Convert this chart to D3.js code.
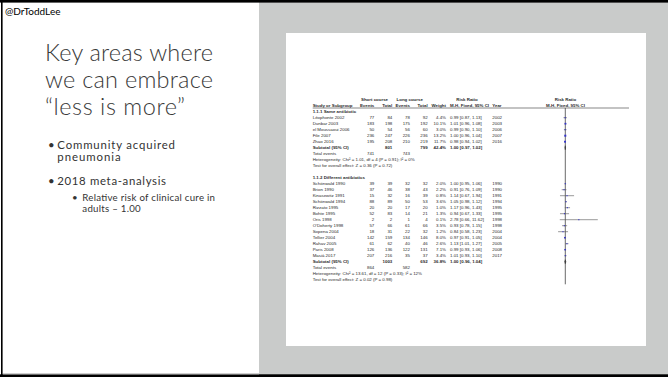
<!DOCTYPE html>
<html><head><meta charset="utf-8">
<script src="https://cdn.jsdelivr.net/npm/d3@7"></script>
<style>html,body{margin:0;padding:0;background:#fff;}svg{display:block}</style>
</head><body><svg id="c" width="668" height="377"></svg>
<script>
// ---------- data ----------
const titleLines = ["Key areas where", "we can embrace", "\u201cless is more\u201d"];
const bullets = ["Community acquired", "pneumonia", "2018 meta-analysis"];
const subBullets = ["Relative risk of clinical cure in", "adults \u2013 1.00"];
const handle = "@DrToddLee";

const groupLabels = ["1.1.1 Same antibiotic", "1.1.2 Different antibiotics"];
const studyNames = ["L\u00e9ophonte 2002","Dunbar 2003","el Moussaoui 2006","File 2007","Zhao 2016",
  "Sch\u00f6nwald 1990","Brion 1990","Kinasewitz 1991","Sch\u00f6nwald 1994","Rizzato 1995","Bohte 1995",
  "Oris 1998","O'Doherty 1998","Sopena 2004","Tellier 2004","Rahav 2005","Paris 2008","Masi\u00e0 2017"];
const studyGroup  = [0,0,0,0,0,1,1,1,1,1,1,1,1,1,1,1,1,1];
const shortEvents = [77,183,50,236,195,39,37,15,88,20,52,2,57,18,142,61,126,207];
const shortTotal  = [84,198,54,247,208,39,46,32,89,20,83,2,66,31,159,62,136,216];
const longEvents  = [78,175,56,226,210,32,38,16,50,17,14,1,61,22,134,40,122,35];
const longTotal   = [92,192,60,236,219,32,43,39,53,20,21,4,66,32,146,46,131,37];
const weights     = [4.4,10.1,3.0,13.2,11.7,2.0,2.2,0.8,3.6,1.0,1.3,0.1,3.5,1.2,8.0,2.6,7.1,3.4];
const riskRatio   = [0.99,1.01,0.99,1.00,0.98,1.00,0.91,1.14,1.05,1.17,0.94,2.78,0.93,0.84,0.97,1.13,0.99,1.01];
const ciLow       = [0.87,0.96,0.90,0.96,0.94,0.95,0.76,0.67,0.98,0.96,0.67,0.66,0.78,0.58,0.91,1.01,0.93,0.93];
const ciHigh      = [1.13,1.08,1.10,1.04,1.02,1.06,1.09,1.94,1.12,1.43,1.33,11.62,1.15,1.23,1.05,1.27,1.06,1.10];
const years       = [2002,2003,2006,2007,2016,1990,1990,1991,1994,1995,1995,1998,1998,2004,2004,2005,2008,2017];

const subShortTotal = [801, 1003];
const subLongTotal  = [799, 692];
const subWeight     = [42.4, 36.8];
const subRR         = [1.00, 1.00];
const subLow        = [0.97, 0.96];
const subHigh       = [1.02, 1.04];
const totShortEv    = [741, 864];
const totLongEv     = [743, 582];
const heterogeneity = ["Heterogeneity: Chi\u00b2 = 1.01, df = 4 (P = 0.91); I\u00b2 = 0%",
                       "Heterogeneity: Chi\u00b2 = 13.61, df = 12 (P = 0.33); I\u00b2 = 12%"];
const overallEffect = ["Test for overall effect: Z = 0.36 (P = 0.72)",
                       "Test for overall effect: Z = 0.02 (P = 0.98)"];
const rrDomain = [0.01, 100];

// ---------- drawing ----------
const svg = d3.select("#c");
const W = 668, H = 377;
const slideFont = "Lato, 'Open Sans', sans-serif";
const tableFont = "'Liberation Sans', Arial, sans-serif";

// background panels
svg.append("rect").attr("x",0).attr("y",0).attr("width",W).attr("height",H).attr("fill","#ffffff");
svg.append("rect").attr("x",259).attr("y",0).attr("width",W-259).attr("height",H).attr("fill","#c9cbca");
svg.append("rect").attr("x",286).attr("y",33).attr("width",360).attr("height",313).attr("fill","#ffffff");
// frame
svg.append("rect").attr("x",0).attr("y",0).attr("width",W).attr("height",2.6).attr("fill","#000");
svg.append("rect").attr("x",0).attr("y",374.3).attr("width",W).attr("height",2.7).attr("fill","#000");
svg.append("rect").attr("x",3).attr("y",373.3).attr("width",256).attr("height",1).attr("fill","#bbb");
svg.append("rect").attr("x",1).attr("y",0).attr("width",1.6).attr("height",H).attr("fill","#000");

// handle
svg.append("text").attr("x",5).attr("y",14.5).attr("font-family",slideFont).attr("font-size",10)
  .attr("fill","#000").text(handle);

// title
const titleWidths = [168, 168, 140];
svg.append("g").selectAll("text").data(titleLines).join("text")
  .attr("x",45).attr("y",(d,i)=>61+27*i)
  .attr("font-family",slideFont).attr("font-size",23.5).attr("font-weight",300)
  .attr("textLength",(d,i)=>titleWidths[i]).attr("lengthAdjust","spacing")
  .attr("fill","#3a3a3a").text(d=>d);

// bullets
const bY = [149, 161, 185];
const bW = [117.7, 63.4, 108.7];
const bg = svg.append("g").attr("font-family",slideFont).attr("fill","#333");
bg.selectAll("text.b").data(bullets).join("text").attr("class","b")
  .attr("x",57.3).attr("y",(d,i)=>bY[i]).attr("font-size",11.4)
  .attr("textLength",(d,i)=>bW[i]).attr("lengthAdjust","spacing").text(d=>d);
bg.selectAll("text.bd").data([bY[0], bY[2]]).join("text").attr("class","bd")
  .attr("x",48).attr("y",d=>d).attr("font-size",11.4).text("\u2022");
const sY = [201, 212];
const sW = [132.7, 58.4];
bg.selectAll("text.s").data(subBullets).join("text").attr("class","s")
  .attr("x",82.3).attr("y",(d,i)=>sY[i]).attr("font-size",9.7)
  .attr("textLength",(d,i)=>sW[i]).attr("lengthAdjust","spacing").text(d=>d);
bg.append("text").attr("x",72).attr("y",201).attr("font-size",9.7).text("\u2022");

// ---------- forest plot table ----------
const fs = 4.4;
const tg = svg.append("g").attr("font-family",tableFont).attr("font-size",fs).attr("fill","#2a2a2a");
const rowY = d3.scaleLinear().domain([0,28]).range([111.7, 279.7]);
const xr = d3.scaleLog().domain(rrDomain).range([504.3, 626.3]);
const col = {name:312.7, se:374.3, st:392.3, le:410, lt:427.7, w:446, rr:450, yr:492.3};
const fmt2 = d3.format(".2f"), fmt1 = d3.format(".1f");
const ciText = (r,l,h)=>`${fmt2(r)} [${fmt2(l)}, ${fmt2(h)}]`;

function txt(x,y,s,anchor,bold){
  tg.append("text").attr("x",x).attr("y",y).attr("dy","0.35em")
    .attr("text-anchor",anchor||"start").attr("font-weight",bold?"bold":null).text(s);
}
// headers
txt(374.5, 99, "Short course", "middle", true);
txt(409.7, 99, "Long course", "middle", true);
txt(467, 99, "Risk Ratio", "middle", true);
txt(565.5, 99, "Risk Ratio", "middle", true);
txt(col.name, 105, "Study or Subgroup", "start", true);
txt(col.se, 105, "Events", "end", true);
txt(col.st, 105, "Total", "end", true);
txt(col.le, 105, "Events", "end", true);
txt(col.lt, 105, "Total", "end", true);
txt(col.w, 105, "Weight", "end", true);
txt(col.rr, 105, "M-H, Fixed, 95% CI", "start", true);
txt(col.yr, 105, "Year", "start", true);
txt(565.5, 105, "M-H, Fixed, 95% CI", "middle", true);
svg.append("line").attr("x1",312.7).attr("x2",629).attr("y1",108).attr("y2",108)
  .attr("stroke","#555").attr("stroke-width",0.7);

// rows
const rowsIdx = [];
[0,1].forEach(g=>{
  const base = g===0 ? 0 : 11;
  txt(col.name, rowY(base), groupLabels[g], "start", true);
  const ids = d3.range(studyNames.length).filter(i=>studyGroup[i]===g);
  ids.forEach((i,k)=>{
    const y = rowY(base+1+k);
    rowsIdx.push({i, y});
    txt(col.name, y, studyNames[i]);
    txt(col.se, y, shortEvents[i], "end");
    txt(col.st, y, shortTotal[i], "end");
    txt(col.le, y, longEvents[i], "end");
    txt(col.lt, y, longTotal[i], "end");
    txt(col.w, y, fmt1(weights[i])+"%", "end");
    txt(col.rr, y, ciText(riskRatio[i], ciLow[i], ciHigh[i]));
    txt(col.yr, y, years[i]);
  });
  const n = ids.length;
  const ys = rowY(base+1+n);
  txt(col.name, ys, "Subtotal (95% CI)", "start", true);
  txt(col.st, ys, subShortTotal[g], "end", true);
  txt(col.lt, ys, subLongTotal[g], "end", true);
  txt(col.w, ys, fmt1(subWeight[g])+"%", "end", true);
  txt(col.rr, ys, ciText(subRR[g], subLow[g], subHigh[g]), "start", true);
  // diamond
  svg.append("path")
    .attr("d", `M${xr(subLow[g])},${ys} L${xr(subRR[g])},${ys-2} L${xr(subHigh[g])},${ys} L${xr(subRR[g])},${ys+2} Z`)
    .attr("fill","#111").attr("stroke","#111").attr("stroke-width",0.5);
  const ye = rowY(base+2+n);
  txt(col.name, ye, "Total events");
  txt(col.se, ye, totShortEv[g], "end");
  txt(col.le, ye, totLongEv[g], "end");
  txt(col.name, rowY(base+3+n), heterogeneity[g]);
  txt(col.name, rowY(base+4+n), overallEffect[g]);
});

// null line
svg.append("line").attr("x1",xr(1)).attr("x2",xr(1)).attr("y1",108).attr("y2",284.3)
  .attr("stroke","#444").attr("stroke-width",0.8);

// CI lines & squares
const sq = w => Math.max(1.1, Math.sqrt(w)*0.55);
const fg = svg.append("g");
fg.selectAll("line.ci").data(rowsIdx).join("line").attr("class","ci")
  .attr("x1",d=>xr(ciLow[d.i])).attr("x2",d=>xr(ciHigh[d.i]))
  .attr("y1",d=>d.y).attr("y2",d=>d.y).attr("stroke","#555").attr("stroke-width",0.6);
fg.selectAll("rect.sq").data(rowsIdx).join("rect").attr("class","sq")
  .attr("x",d=>xr(riskRatio[d.i]) - sq(weights[d.i])/2)
  .attr("y",d=>d.y - sq(weights[d.i])/2)
  .attr("width",d=>sq(weights[d.i]))
  .attr("height",d=>sq(weights[d.i]))
  .attr("fill","#3333cc");
</script></body></html>
